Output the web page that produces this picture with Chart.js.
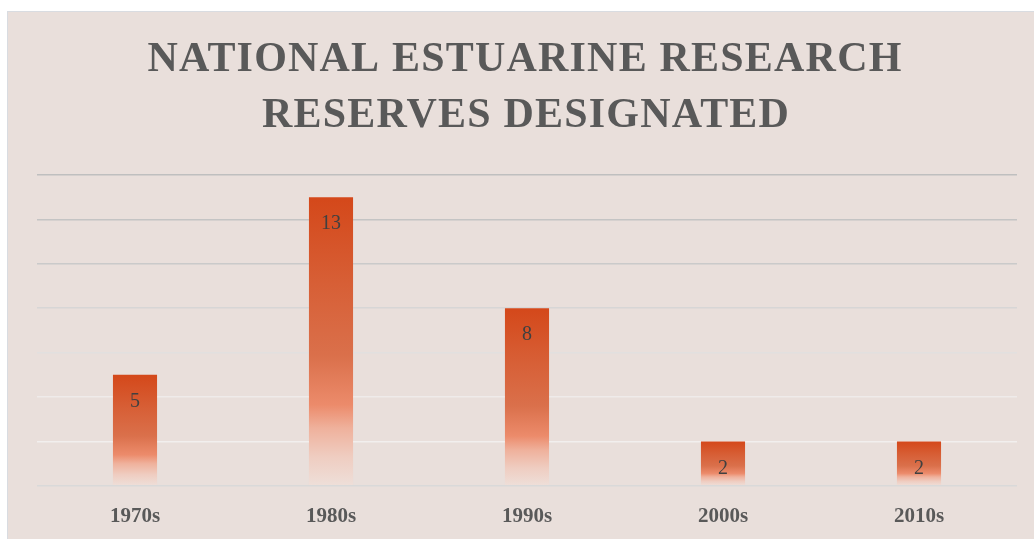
<!DOCTYPE html>
<html>
<head>
<meta charset="utf-8">
<script src="https://cdn.jsdelivr.net/npm/chart.js@4.4.1/dist/chart.umd.min.js"></script>
<style>
  html, body { margin: 0; padding: 0; background: #ffffff; }
  #panel {
    position: absolute; left: 7px; top: 11px; right: 0; bottom: 0;
    background: #E9DFDB;
    border-top: 1px solid #D9DCE1; border-left: 1px solid #D9DCE1;
  }
  #wrap { position: absolute; left: 0; top: 0; width: 1034px; height: 539px; }
</style>
</head>
<body>
<div id="panel"></div>
<div id="wrap"><canvas id="chart"></canvas></div>
<script>
'use strict';
// data
var decades = ['1970s', '1980s', '1990s', '2000s', '2010s'];
var reserves = [5, 13, 8, 2, 2];
var titleLines = ['NATIONAL ESTUARINE RESEARCH', 'RESERVES DESIGNATED'];
var yTicks = [0, 2, 4, 6, 8, 10, 12, 14];
var gridColors = ['#D9D9D9', '#F2EFEE', '#EFEBEA', '#E2E0DF', '#D7D6D6', '#CACACA', '#C4C4C4', '#BFBFBF'];

var serif = '"Liberation Serif", "Times New Roman", serif';

// gradient from dark orange at the top of each bar to the background at its foot
function barFill(ctx) {
    var chart = ctx.chart;
    if (!chart.chartArea || ctx.type !== 'data') return '#D4491A';
    var y = chart.scales.y;
    var top = y.getPixelForValue(ctx.raw);
    var bottom = y.getPixelForValue(0);
    var g = chart.ctx.createLinearGradient(0, top, 0, bottom);
    g.addColorStop(0, '#D4481A');
    g.addColorStop(0.3, '#D75F36');
    g.addColorStop(0.55, '#DA704B');
    g.addColorStop(0.72, '#EC8B6B');
    g.addColorStop(0.8, '#EFB19C');
    g.addColorStop(0.9, '#EFCDC1');
    g.addColorStop(1, '#EEDFD9');
    return g;
}

var titlePlugin = {
    id: 'spacedTitle',
    beforeDraw: function(chart) {
        var c = chart.ctx;
        c.save();
        c.font = 'bold 42px ' + serif;
        c.fillStyle = '#595959';
        c.textAlign = 'center';
        c.textBaseline = 'middle';
        c.letterSpacing = '1.2px';
        c.fillText(titleLines[0], 525, 60);
        c.fillText(titleLines[1], 526, 116);
        c.restore();
    }
};

var labelPlugin = {
    id: 'barLabels',
    afterDatasetsDraw: function(chart) {
        var c = chart.ctx;
        var meta = chart.getDatasetMeta(0);
        c.save();
        c.font = '20px ' + serif;
        c.fillStyle = '#404040';
        c.textAlign = 'center';
        c.textBaseline = 'middle';
        meta.data.forEach(function(bar, i) {
            c.fillText(String(reserves[i]), bar.x, bar.y + 27);
        });
        c.restore();
    }
};

new Chart(document.getElementById('chart'), {
    type: 'bar',
    data: {
        labels: decades,
        datasets: [{
            data: reserves,
            backgroundColor: barFill,
            borderWidth: 0,
            barPercentage: 1,
            categoryPercentage: 0.225
        }]
    },
    options: {
        responsive: true,
        maintainAspectRatio: false,
        animation: false,
        layout: { padding: { left: 37, right: 17, top: 175, bottom: 0 } },
        plugins: {
            legend: { display: false },
            title: { display: false },
            tooltip: { enabled: false }
        },
        scales: {
            x: {
                grid: { display: false },
                border: { display: false },
                ticks: {
                    color: '#595959',
                    font: { family: serif, size: 21, weight: 'bold' },
                    padding: 10
                }
            },
            y: {
                min: 0,
                max: 14,
                afterBuildTicks: function(axis) {
                    axis.ticks = yTicks.map(function(v) { return { value: v }; });
                },
                border: { display: false },
                grid: {
                    drawTicks: false,
                    lineWidth: 1.5,
                    color: function(ctx) {
                        return gridColors[yTicks.indexOf(ctx.tick.value)] || '#D9D9D9';
                    }
                },
                ticks: { display: false }
            }
        }
    },
    plugins: [titlePlugin, labelPlugin]
});
</script>
</body>
</html>
